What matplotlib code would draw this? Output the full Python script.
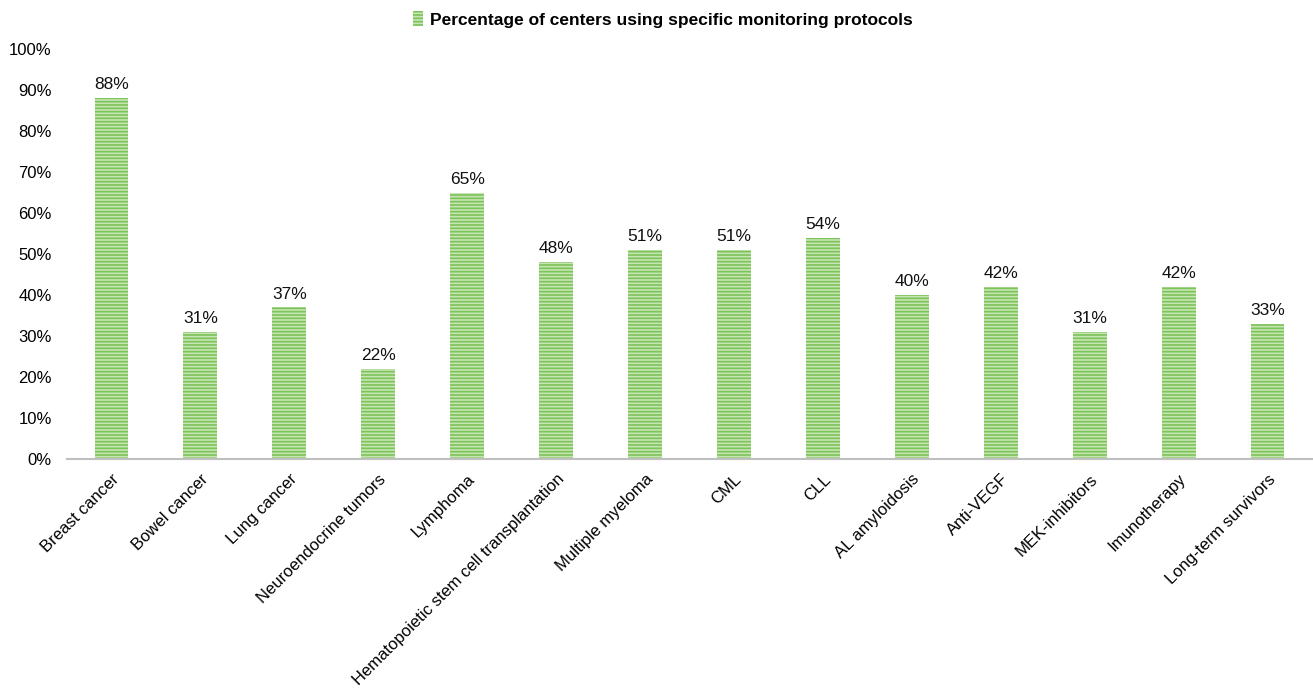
import matplotlib.pyplot as plt
import numpy as np
from matplotlib.ticker import PercentFormatter

plt.rcParams['font.family'] = ['Liberation Sans', 'DejaVu Sans']
plt.rcParams['hatch.linewidth'] = 1.2

categories = ['Breast cancer', 'Bowel cancer', 'Lung cancer', 'Neuroendocrine tumors',
              'Lymphoma', 'Hematopoietic stem cell transplantation', 'Multiple myeloma',
              'CML', 'CLL', 'AL amyloidosis', 'Anti-VEGF', 'MEK-inhibitors',
              'Imunotherapy', 'Long-term survivors']
values = [88, 31, 37, 22, 65, 48, 51, 51, 54, 40, 42, 31, 42, 33]
series_name = 'Percentage of centers using specific monitoring protocols'

fig = plt.figure(figsize=(13.13, 6.95), dpi=100)
ax = fig.add_axes([67 / 1313, 236 / 695, 1245 / 1313, 410 / 695])

x = np.arange(len(categories))
bars = ax.bar(x, values, width=0.38, color='#c6e5b3', edgecolor='#7cc35a',
              hatch='-----', linewidth=0, label=series_name)

for xi, v in zip(x, values):
    ax.text(xi, v + 1.4, f'{v}%', ha='center', va='bottom', fontsize=12.5, color='#111111')

ax.set_xlim(-0.5, len(categories) - 0.5)
ax.set_ylim(0, 100)
ax.set_yticks(np.arange(0, 101, 10))
ax.yaxis.set_major_formatter(PercentFormatter(decimals=0))
ax.set_xticks(x)
ax.set_xticklabels(categories, rotation=45, ha='right', rotation_mode='anchor', fontsize=12)
ax.tick_params(axis='y', length=0, labelsize=12, pad=11)
ax.tick_params(axis='x', length=0, pad=9)

for s in ['top', 'right', 'left']:
    ax.spines[s].set_visible(False)
ax.spines['bottom'].set_color('#bfbfbf')
ax.spines['bottom'].set_linewidth(1.5)

# legend doubles as the chart title
leg = fig.legend(loc='upper center', bbox_to_anchor=(0.505, 1.006), frameon=False,
                 prop={'weight': 'bold', 'size': 12.5}, handlelength=0.6, handleheight=0.9,
                 handletextpad=0.4)

fig.savefig('out.png', dpi=100)
